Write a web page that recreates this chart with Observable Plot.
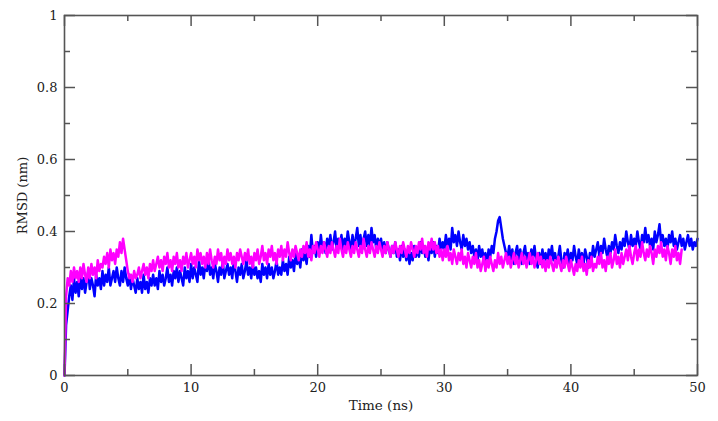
<!DOCTYPE html>
<html>
<head>
<meta charset="utf-8">
<script src="https://cdn.jsdelivr.net/npm/d3@7"></script>
<script src="https://cdn.jsdelivr.net/npm/@observablehq/plot@0.6"></script>
<style>
  html, body { margin: 0; padding: 0; background: #fff; }
  #chart svg { display: block; }
</style>
</head>
<body>
<div id="chart"></div>
<script>
// Sampling step of the time axis (ns)
const timeStep = 0.125;

// Blue series RMSD (nm), t = 0 .. 50 ns (one row per ns)
const blueRMSD = [
  0, 0.14, 0.18, 0.22, 0.25, 0.21, 0.27, 0.23,
  0.26, 0.22, 0.28, 0.24, 0.27, 0.23, 0.26, 0.29,
  0.24, 0.27, 0.25, 0.22, 0.28, 0.25, 0.27, 0.24,
  0.29, 0.25, 0.28, 0.26, 0.30, 0.25, 0.27, 0.29,
  0.26, 0.30, 0.27, 0.25, 0.29, 0.26, 0.30, 0.27,
  0.25, 0.28, 0.24, 0.27, 0.25, 0.23, 0.27, 0.24,
  0.26, 0.23, 0.28, 0.24, 0.26, 0.23, 0.27, 0.25,
  0.28, 0.25, 0.27, 0.24, 0.29, 0.26, 0.28, 0.25,
  0.27, 0.30, 0.26, 0.28, 0.25, 0.29, 0.27, 0.30,
  0.26, 0.29, 0.27, 0.25, 0.30, 0.27, 0.29, 0.26,
  0.31, 0.27, 0.30, 0.28, 0.26, 0.32, 0.28, 0.30,
  0.27, 0.31, 0.29, 0.33, 0.28, 0.30, 0.27, 0.31,
  0.29, 0.26, 0.30, 0.28, 0.32, 0.27, 0.29, 0.31,
  0.28, 0.30, 0.27, 0.32, 0.29, 0.26, 0.30, 0.28,
  0.31, 0.27, 0.29, 0.32, 0.28, 0.30, 0.27, 0.31,
  0.28, 0.30, 0.27, 0.29, 0.26, 0.31, 0.28, 0.30,
  0.27, 0.31, 0.28, 0.30, 0.27, 0.29, 0.32, 0.28,
  0.30, 0.28, 0.32, 0.29, 0.31, 0.28, 0.33, 0.30,
  0.32, 0.29, 0.34, 0.31, 0.33, 0.30, 0.35, 0.32,
  0.34, 0.31, 0.36, 0.33, 0.39, 0.34, 0.36, 0.33,
  0.37, 0.34, 0.39, 0.35, 0.37, 0.34, 0.38, 0.36,
  0.39, 0.35, 0.37, 0.40, 0.35, 0.38, 0.36, 0.39,
  0.35, 0.38, 0.36, 0.40, 0.37, 0.35, 0.39, 0.36,
  0.38, 0.41, 0.36, 0.39, 0.35, 0.38, 0.40, 0.36,
  0.39, 0.36, 0.41, 0.37, 0.39, 0.35, 0.38, 0.36,
  0.38, 0.35, 0.37, 0.34, 0.37, 0.35, 0.33, 0.36,
  0.34, 0.37, 0.33, 0.35, 0.32, 0.36, 0.33, 0.35,
  0.32, 0.35, 0.31, 0.34, 0.32, 0.36, 0.33, 0.35,
  0.33, 0.37, 0.34, 0.36, 0.33, 0.35, 0.32, 0.36,
  0.34, 0.37, 0.33, 0.36, 0.34, 0.38, 0.35, 0.37,
  0.35, 0.39, 0.36, 0.38, 0.35, 0.41, 0.37, 0.39,
  0.36, 0.40, 0.37, 0.35, 0.39, 0.36, 0.38, 0.35,
  0.37, 0.34, 0.36, 0.33, 0.35, 0.32, 0.36, 0.33,
  0.35, 0.32, 0.34, 0.31, 0.35, 0.33, 0.36, 0.34,
  0.38, 0.40, 0.43, 0.44, 0.41, 0.38, 0.36, 0.34,
  0.33, 0.36, 0.32, 0.35, 0.31, 0.34, 0.36, 0.32,
  0.35, 0.31, 0.34, 0.36, 0.32, 0.34, 0.31, 0.35,
  0.33, 0.36, 0.32, 0.30, 0.34, 0.31, 0.35, 0.32,
  0.34, 0.31, 0.35, 0.33, 0.36, 0.32, 0.34, 0.31,
  0.33, 0.36, 0.32, 0.30, 0.34, 0.32, 0.35, 0.31,
  0.34, 0.32, 0.36, 0.33, 0.31, 0.35, 0.32, 0.34,
  0.31, 0.35, 0.33, 0.30, 0.34, 0.32, 0.36, 0.33,
  0.35, 0.37, 0.33, 0.36, 0.34, 0.38, 0.35, 0.33,
  0.36, 0.34, 0.37, 0.35, 0.39, 0.36, 0.34, 0.37,
  0.35, 0.38, 0.36, 0.40, 0.37, 0.35, 0.39, 0.36,
  0.38, 0.36, 0.40, 0.37, 0.35, 0.39, 0.37, 0.41,
  0.37, 0.39, 0.36, 0.38, 0.35, 0.40, 0.37, 0.39,
  0.42, 0.37, 0.39, 0.36, 0.38, 0.35, 0.39, 0.37,
  0.40, 0.36, 0.38, 0.35, 0.37, 0.39, 0.36, 0.38,
  0.35, 0.37, 0.39, 0.36, 0.38, 0.35, 0.37, 0.36,
  0.38
];

// Magenta series RMSD (nm), t = 0 .. 48.75 ns (one row per ns)
const magentaRMSD = [
  0, 0.22, 0.27, 0.25, 0.29, 0.26, 0.30, 0.27,
  0.29, 0.26, 0.30, 0.27, 0.31, 0.28, 0.26, 0.30,
  0.27, 0.31, 0.28, 0.30, 0.27, 0.32, 0.29, 0.31,
  0.30, 0.33, 0.31, 0.34, 0.30, 0.35, 0.32, 0.34,
  0.31, 0.35, 0.33, 0.37, 0.34, 0.38, 0.35, 0.32,
  0.29, 0.27, 0.28, 0.26, 0.29, 0.27, 0.28, 0.30,
  0.27, 0.29, 0.31, 0.28, 0.30, 0.27, 0.31, 0.29,
  0.32, 0.29, 0.31, 0.33, 0.30, 0.32, 0.29, 0.33,
  0.31, 0.34, 0.30, 0.32, 0.29, 0.33, 0.31, 0.34,
  0.30, 0.32, 0.29, 0.33, 0.31, 0.34, 0.30, 0.32,
  0.34, 0.31, 0.33, 0.30, 0.35, 0.32, 0.34, 0.31,
  0.33, 0.30, 0.34, 0.31, 0.35, 0.32, 0.30, 0.33,
  0.31, 0.35, 0.32, 0.34, 0.30, 0.33, 0.31, 0.35,
  0.32, 0.34, 0.31, 0.33, 0.30, 0.34, 0.32, 0.35,
  0.33, 0.31, 0.34, 0.32, 0.35, 0.31, 0.33, 0.30,
  0.34, 0.32, 0.35, 0.31, 0.33, 0.36, 0.32, 0.34,
  0.31, 0.35, 0.33, 0.36, 0.32, 0.34, 0.31, 0.35,
  0.33, 0.36, 0.32, 0.35, 0.33, 0.37, 0.34, 0.32,
  0.35, 0.33, 0.36, 0.34, 0.32, 0.35, 0.33, 0.36,
  0.34, 0.37, 0.33, 0.35, 0.32, 0.36, 0.34, 0.37,
  0.35, 0.33, 0.36, 0.34, 0.37, 0.35, 0.33, 0.36,
  0.34, 0.37, 0.35, 0.33, 0.36, 0.34, 0.38, 0.35,
  0.33, 0.36, 0.34, 0.37, 0.35, 0.33, 0.36, 0.34,
  0.37, 0.35, 0.33, 0.36, 0.34, 0.38, 0.35, 0.33,
  0.36, 0.34, 0.37, 0.35, 0.33, 0.36, 0.34, 0.37,
  0.35, 0.33, 0.36, 0.34, 0.37, 0.35, 0.33, 0.36,
  0.34, 0.37, 0.35, 0.33, 0.36, 0.34, 0.37, 0.35,
  0.33, 0.36, 0.34, 0.37, 0.35, 0.33, 0.36, 0.34,
  0.37, 0.35, 0.38, 0.34, 0.36, 0.33, 0.37, 0.35,
  0.38, 0.35, 0.37, 0.34, 0.36, 0.33, 0.35, 0.32,
  0.35, 0.33, 0.36, 0.32, 0.34, 0.31, 0.35, 0.33,
  0.31, 0.34, 0.32, 0.35, 0.31, 0.33, 0.30, 0.34,
  0.32, 0.30, 0.33, 0.31, 0.34, 0.30, 0.32, 0.29,
  0.31, 0.33, 0.29, 0.32, 0.30, 0.33, 0.31, 0.29,
  0.32, 0.30, 0.34, 0.31, 0.33, 0.30, 0.32, 0.34,
  0.31, 0.33, 0.30, 0.32, 0.34, 0.31, 0.33, 0.30,
  0.32, 0.34, 0.31, 0.33, 0.30, 0.32, 0.34, 0.31,
  0.33, 0.30, 0.32, 0.34, 0.31, 0.33, 0.30, 0.32,
  0.29, 0.32, 0.30, 0.33, 0.31, 0.29, 0.32, 0.30,
  0.33, 0.31, 0.29, 0.32, 0.30, 0.33, 0.31, 0.29,
  0.32, 0.30, 0.28, 0.31, 0.29, 0.32, 0.30, 0.33,
  0.29, 0.31, 0.28, 0.32, 0.30, 0.33, 0.29, 0.31,
  0.30, 0.33, 0.31, 0.34, 0.30, 0.32, 0.29, 0.33,
  0.31, 0.34, 0.30, 0.32, 0.35, 0.31, 0.33, 0.30,
  0.34, 0.31, 0.33, 0.35, 0.32, 0.36, 0.33, 0.31,
  0.34, 0.36, 0.32, 0.35, 0.33, 0.37, 0.34, 0.32,
  0.35, 0.33, 0.36, 0.34, 0.31, 0.35, 0.33, 0.36,
  0.34, 0.37, 0.33, 0.35, 0.32, 0.36, 0.34, 0.31,
  0.35, 0.33, 0.36, 0.32, 0.34, 0.31, 0.35
];

// Axis ticks
const xMajorTicks = [0, 10, 20, 30, 40, 50];
const xMinorTicks = [5, 15, 25, 35, 45];
const yMajorTicks = [0, 0.2, 0.4, 0.6, 0.8, 1];
const yMinorTicks = [0.1, 0.3, 0.5, 0.7, 0.9];
const yTickLabels = ["0", "0.2", "0.4", "0.6", "0.8", "1"];

const xLabel = "Time (ns)";
const yLabel = "RMSD (nm)";

const blueData = blueRMSD.map((v, i) => ({t: i * timeStep, rmsd: v}));
const magentaData = magentaRMSD.map((v, i) => ({t: i * timeStep, rmsd: v}));

const W = 718, H = 421;
const mt = 15, mr = 21, mb = 46, ml = 64;
const innerH = H - mt - mb;
const innerW = W - ml - mr;
const majorLen = 11, minorLen = 6;
const axisColor = "#555";
const font = "DejaVu Serif, serif";

const chart = Plot.plot({
  width: W,
  height: H,
  marginTop: mt,
  marginRight: mr,
  marginBottom: mb,
  marginLeft: ml,
  style: {fontFamily: font, fontSize: "13px", color: "#222", background: "#fff"},
  x: {domain: [0, 50], nice: false},
  y: {domain: [0, 1], nice: false},
  marks: [
    Plot.line(blueData, {x: "t", y: "rmsd", stroke: "#0000ff", strokeWidth: 2.5, strokeLinejoin: "round"}),
    Plot.line(magentaData, {x: "t", y: "rmsd", stroke: "#ff00ff", strokeWidth: 2.5, strokeLinejoin: "round"}),
    // inward ticks, bottom & top
    Plot.tickX(xMajorTicks, {x: d => d, insetTop: innerH - majorLen, stroke: axisColor, strokeWidth: 1.5}),
    Plot.tickX(xMinorTicks, {x: d => d, insetTop: innerH - minorLen, stroke: axisColor, strokeWidth: 1.5}),
    Plot.tickX(xMajorTicks, {x: d => d, insetBottom: innerH - majorLen, stroke: axisColor, strokeWidth: 1.5}),
    Plot.tickX(xMinorTicks, {x: d => d, insetBottom: innerH - minorLen, stroke: axisColor, strokeWidth: 1.5}),
    // inward ticks, left & right
    Plot.tickY(yMajorTicks, {y: d => d, insetRight: innerW - majorLen, stroke: axisColor, strokeWidth: 1.5}),
    Plot.tickY(yMinorTicks, {y: d => d, insetRight: innerW - minorLen, stroke: axisColor, strokeWidth: 1.5}),
    Plot.tickY(yMajorTicks, {y: d => d, insetLeft: innerW - majorLen, stroke: axisColor, strokeWidth: 1.5}),
    Plot.tickY(yMinorTicks, {y: d => d, insetLeft: innerW - minorLen, stroke: axisColor, strokeWidth: 1.5}),
    Plot.frame({stroke: axisColor, strokeWidth: 1.6}),
    Plot.axisX(xMajorTicks, {tickSize: 0, tickPadding: 7, label: null, tickFormat: d => String(d), fill: "#222"}),
    Plot.axisY(yMajorTicks, {tickSize: 0, tickPadding: 7, label: null, tickFormat: (d, i) => yTickLabels[i], fill: "#222"}),
    Plot.text([xLabel], {frameAnchor: "bottom", dy: 34, text: d => d, fontSize: 13.5, fill: "#222"}),
    Plot.text([yLabel], {frameAnchor: "left", dx: -42, rotate: -90, textAnchor: "middle", text: d => d, fontSize: 13, fill: "#222"})
  ]
});

document.getElementById("chart").appendChild(chart);
</script>
</body>
</html>
